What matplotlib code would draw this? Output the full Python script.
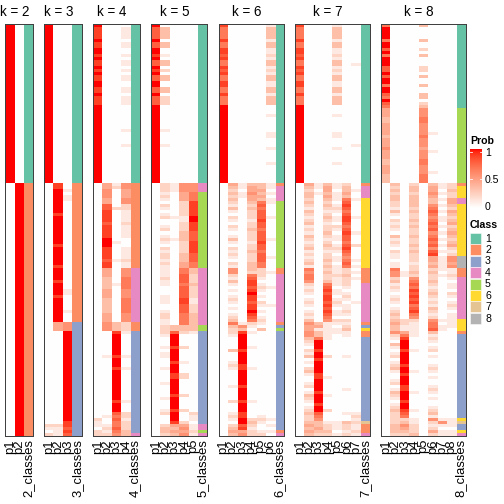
import numpy as np
import matplotlib.pyplot as plt
from matplotlib.colors import to_rgb

plt.rcParams['font.family'] = ['Liberation Sans', 'DejaVu Sans']

N = 137  # samples (rows)

# probabilities are written as digits 0-9 (9 = 1.0), "dxn" = digit d repeated n rows
k2_classes = "1x53 2x84"
k2_p = [("9x53", "0x84"),
        ("0x53", "9x84")]

k3_classes = "1x53 2x46 3x38"
k3_p = [("9x53", "0x80 2 1 0 2"),
        ("0x53", "8x2 9x8 8 9x9 8 9x6 8 9x4 8 9x4 8 9x8", "4x3", "0x31 2 1 1 1"),
        ("0x53", "0x2 1 0 1x2 0x29 1x2 0x5 1 0x3", "5x3", "9x30 8x2 7 8 7")]

k4_classes = "1x53 2x28 4x18 2x3 3x34 4"
k4_p = [("9 8x4 9 8x2 9x2 8 9 8x2 9 8 9 8x2 9x2 8x2 9 8x3 9x26", "0x49", "0x29 2 1 1 0 2 2"),
        ("0x53", "4x2 5x3 4x2 7x2 8x4 7 8x4 9x3 8x4 7 8x2", "4x3 3x4 4x3 3x5 4x3", "5x3",
         "0x8 1 0x19 1 0x2 1 2 1 2"),
        ("0x53", "1 2 0x6 2 0x10 1 0x5 1 0x2", "0x5 1 0x12", "3x3",
         "8 9x7 8 9x3 8 9x10 8 9x3 7 6 7 6x2 7 6 5"),
        ("0 1x4 0 1x2 0x2 1 0 1x2 0 1 0 1x2 0x2 1x2 0 1x3 0x8 1 0x4 1 0x12",
         "5x2 4x3 5x2 2x2 1x4 2 1x4 0x3 1x4 2 1x2", "5x3 6x4 5x3 6x5 5x3", "2x3",
         "1 0x7 1 0x3 1 0x10 1 0x3 2 2 1 2x2 2 3 3")]

k5_classes = "1x53 4x3 5x25 4x19 5x2 3x31 4x2 5 4"
k5_p = [("9 7x4 9 7x2 9x2 8 9 7x2 9 8 9 7x2 9x2 7x2 9 7x3 9x26", "0x84"),
        ("0 3x4 0 3x2 0x2 1 0 3x2 0 2 0 3x2 0x2 3x2 0 2x3 0x8 1 0x4 1 0x12", "2x3",
         "1 2 1 0 2 1 0 1 2 0x2 1 2 0 1 2 1 0 2 1 2x2 1 2 1", "1x3 2 1x2 0x3 1x3 0x2 1 2x2 1 1",
         "2x2", "2 1 0x3 1 0 1x2 0x3 1 0x4 1 0x4 1 0x3 1 2 0x3", "2 3 3 2"),
        ("0x53", "1x3", "0x8 1 0x6 1 0x9", "0x19", "3x2",
         "7 9x4 8 9x4 8 9x3 8x2 9x5 8 9x4 8 9x3 8", "4 3 4 3"),
        ("0x53", "5x3", "4x3 2x5 1x2 2x3 3x3 2x4 3x3 4x2", "6x2 7x3 6 7x4 8x2 7x3 6x3 6", "3x2",
         "2 0x4 2 0x4 1 0x3 2x2 0x5 2 0x4 2 0x3 2", "4 5 4 5"),
        ("0x53", "5x3", "6x3 8x5 9x2 8x3 7x3 8x4 7x3 6x2", "3x2 2x3 3 2x4 1x2 2x3 3x3 3", "3x2",
         "1 0x26 2 1 1 0", "1 1 2 1")]

k6_classes = "1x53 2 4x5 5x22 2x2 4x16 2 3 5 3x33 2 4"
k6_p = [("8 6x4 8 6x2 8x2 7 8 6x2 8 7 8 6x2 8x2 6x2 8 6x3 9x26", "0x84"),
        ("0x53", "4", "3 2 3 2 3", "2 1 3 1 0 2 1 0 2 1 0 1 3 1 0 2 1 2 1 0 2 1", "5 5",
         "2 1 3 1 0 1 0 1 2 1 0 1 0 1 2 3", "6", "3", "2",
         "2 1 0x4 3 0x3 1 2 1 0x5 1 0x4 2 0x3 1 2 1 0 2 3", "4 3"),
        ("0x53", "1", "1 0 1 1 0", "0x22", "0 0", "0x16", "1", "5", "3",
         "8 9x5 8 9x4 8x2 9x5 8 9x4 8 9x3 8x2 9x2 7 8", "4 5"),
        ("0x53", "3", "4 4 5 4 4", "3 2 3 2x3 1 2x2 3 2x3 1 2x2 3 2x3 3x2", "3 2",
         "6 7 8x2 7 8 9 8x2 7 8x2 9 8 7 6", "2", "1", "0",
         "1 0x4 1 0x6 1 0x10 1 0x5 2 3 2 1", "2 2"),
        ("0x53", "3", "3 4 3 4 3", "6 7 6 7x3 8 7x2 6 7x3 8 7x2 6 7x3 6x2", "2 2",
         "2 1 0 1 2 1 0 1 0 2 1 0 1 0 1 2", "1", "0", "3", "0x28 1 2 1 0 0", "1 2"),
        ("1 3x4 1 3x2 1x2 2 1 3x2 1 2 1 3x2 1x2 3x2 1 3x3 0x3 1 0x5 1x2 0x3 1 0x4 1 0x6",
         "1", "1 0 1 0 1", "1 0x4 1 0x6 1 0x5 1 0x3", "0 1", "0x4 1 0x5 1 0x5", "0", "0", "0",
         "0x29 1 0 1 0", "1 0")]

k7_classes = "1x53 2 4x4 6x23 2x5 4x13 2 3 6 2x2 3x28 7 2x3 4"
k7_p = [("8 6x4 8 6x2 8x2 7 8 6x2 8 7 8 6x2 8x2 6x2 8 6x3 9x26", "0x84"),
        ("0x53", "4", "3 2 3 3", "2 3 2 1 3 2 1 2 3 1 2 1 3 2 1 2 3 1 2 1 2 3 1", "6 5 6 6 5",
         "2 1 2 1 0 1 2 1 0 1 2 1 3", "5", "4", "4", "5 5",
         "3 2 1 0 2 1 3 0 1 0 2 3 1 0 0 1 2 0 1 3 2 1 0 1 2 3 2 2", "3", "4 3 4", "3"),
        ("0x53", "1", "1 0 1 0", "0x23", "0x5", "0x13", "3", "4", "1", "3 3",
         "6 9x3 8 9x2 8 9x4 8x2 9x4 8 9x3 8 9x2 7 6 5", "3", "3 4 3", "2"),
        ("0x53", "3", "4 4 3 4", "3 2 3 2 1 2 3 2 1 2 2 3 2 1 2 3 2 1 2 2 3 2 3", "2 3 2 2 3",
         "6 7 8 7 8 8 7 8 7 8 7 6 5", "1", "1", "1", "1 1",
         "1 0x5 2 0x6 1 0x5 1 0x4 2 0x3", "1", "2 2 3", "2"),
        ("1 3x4 1 3x2 1x2 2 1 3x2 1 2 1 3x2 1x2 3x2 1 3x3 0x3 1 0x5 1x2 0x3 1 0x4 1 0x6",
         "1", "1 0 1 1", "1 0 1 2 1 0 1 1 0 2 1 0 1 1 0 1 2 1 0 1 1 0 1", "1 1 2 1 1",
         "1 0 1 1 0 1 2 1 0 1 1 0 2", "1", "0", "1", "1 0", "0x28", "1", "1 1 0", "1"),
        ("0x53", "2", "3 3 4 3", "6 7 8 7 6 7 8 8 7 6 7 8 7 7 6 7 8 7 6 5 6 7 6", "2 2 3 2 2",
         "2 1 0 1 2 1 0 1 1 2 1 0 2", "1", "2", "3", "1 1", "0x6 1 0x10 1 0x7 1 0x2",
         "3", "2 2 1", "2"),
        ("0x13 1 0x26 1 0x12", "0", "0 1 0 0", "1 0x5 1 0x4 1 0x3 2 0x4 1 0 1", "0 1 0 1 0",
         "0x6 1 0x6", "0", "0", "0", "0 0", "0x25 1 2 1", "2", "1 1 2", "1")]

k8_classes = "1x28 5x25 2 6x4 4x2 6x17 8x4 2x3 4x14 6x4 2 3x28 6 7 3x2 6 4"
k8_p = [("6 9x4 6 9x2 7 9 6 9x3 7x2 9 7 9x2 6 9x2 7 6 9 7 6",
         "4x3 3x2 4x4 3 4x3 5 4x3 3x2 4x3 3x3", "0x84"),
        ("0x53", "3", "2 3 2 3", "3 2", "2 1 3 1 0 2 1 2 1 0 3 1 2 1 0 2 1", "1 0 1 1", "6 5 5",
         "2 3 1 2 1 0 1 2 1 0 1 2 3 2", "3 4 3 3", "5",
         "2 1 0 3 1 0 1 2 0 1 2 3 1 0 0 1 2 0 1 3 2 1 0 1 2 3 2 2", "2", "2", "3 3", "3", "2"),
        ("0x53", "0", "0x4", "0x2", "0x17", "0x4", "0 1 1", "0x14", "2 2 1 1", "4",
         "6 8 9x3 8 9x4 8 9x2 8 9x3 8x2 9x3 8 9x2 8 7 6", "2", "3", "5 4", "3", "2"),
        ("0x53", "2", "3 3 2 3", "3 3", "3 2 3 2 2 3 2 3 2 2 3 2 2 3 2 3 2", "2 2 1 2", "2 3 2",
         "5 6 7 6 8 7 8 7 8 6 7 8 6 5", "2 1 1 1", "1",
         "1 0x4 1 0x6 1 0x6 1 0x5 1 0x2", "1", "1", "2 2", "2", "3"),
        ("3 0x4 3 0x2 2 0 3 0x3 2x2 0 3 0x2 3 0x2 3 3 0 2 3",
         "5x3 6x2 5x4 6 5x3 4 5x3 6x2 5x3 6x3", "0x84"),
        ("0x28", "0x8 1 0x5 1 0x6 1 0x3", "3", "4 4 5 4", "3 3",
         "5 6 7 6 5 6 7 6 7 5 6 7 6 7 5 7 8", "4 4 3 4", "2 3 2",
         "2 3 2 1 2 3 2 1 2 1 3 2 1 2", "5 6 6 7", "3",
         "1 2 1 0 1 2 0 1 0 0 1 2 1 0 1 0 0 1 2 1 0 1 0 0 1 2 3 1", "5", "2", "1 2", "4", "2"),
        ("0x53", "1", "1 0 1 0", "1 0", "1 0 1 0 1 1 0 1 0 1 0 1 0 1 0 1 0", "1 1 1 1", "1 0 1",
         "0x14", "1 0 1 1", "0", "0x28", "1", "5", "1 0", "1", "1"),
        ("0x53", "2", "2 3 2 2", "4 4", "3 2 4 3 2 3 4 2 3 4 3 2 3 4 2 1 2", "5 5 4 5", "1 1 2",
         "1 0 1 1 0 2 1 0 1 2 1 0 1 1", "1 1 1 0", "0", "0x28", "1", "1", "1 0", "1", "1")]

class_colors = {"1": "#66C2A5", "2": "#FC8D62", "3": "#8DA0CB", "4": "#E78AC3",
                "5": "#A6D854", "6": "#FFD92F", "7": "#E5C494", "8": "#B3B3B3"}


def expand(*segments):
    out = []
    for tok in " ".join(segments).split():
        if "x" in tok:
            v, n = tok.split("x")
            out += [v] * int(n)
        else:
            out.append(tok)
    if len(out) != N:
        print("length", len(out))
        out = (out + ["0"] * N)[:N]
    return out


# white -> red ramp interpolated in LAB space
M = np.array([[0.4124, 0.3576, 0.1805], [0.2126, 0.7152, 0.0722], [0.0193, 0.1192, 0.9505]])
WXYZ = M @ np.ones(3)


def to_lab(rgb):
    c = np.asarray(rgb, float)
    lin = np.where(c <= 0.04045, c / 12.92, ((c + 0.055) / 1.055) ** 2.4)
    t = M @ lin / WXYZ
    f = np.where(t > 0.008856, np.cbrt(t), 7.787 * t + 16 / 116)
    return np.array([116 * f[1] - 16, 500 * (f[0] - f[1]), 200 * (f[1] - f[2])])


def from_lab(lab):
    L, a, b = lab
    fy = (L + 16) / 116
    f = np.array([fy + a / 500, fy, fy - b / 200])
    t = np.where(f ** 3 > 0.008856, f ** 3, (f - 16 / 116) / 7.787) * WXYZ
    lin = np.clip(np.linalg.solve(M, t), 0, 1)
    return np.where(lin <= 0.0031308, 12.92 * lin, 1.055 * lin ** (1 / 2.4) - 0.055)


LW, LR = to_lab([1, 1, 1]), to_lab([1, 0, 0])


def prob_color(v):
    return np.clip(from_lab(LW + (LR - LW) * v), 0, 1)


panels = [(2, k2_classes, k2_p), (3, k3_classes, k3_p), (4, k4_classes, k4_p),
          (5, k5_classes, k5_p), (6, k6_classes, k6_p), (7, k7_classes, k7_p),
          (8, k8_classes, k8_p)]

W = H = 504
fig = plt.figure(figsize=(7, 7), dpi=72)
top, bottom = 24, 436
cw, gap, x = 9.35, 11.3, 5.0

for k, cls, probs in panels:
    ncol = k + 1
    w = ncol * cw
    ax = fig.add_axes([x / W, 1 - bottom / H, w / W, (bottom - top) / H])
    img = np.ones((N, ncol, 3))
    for j, col in enumerate(probs):
        vals = expand(*col)
        img[:, j] = [prob_color(int(d) / 9) for d in vals]
    img[:, k] = [to_rgb(class_colors[c]) for c in expand(cls)]
    ax.imshow(img, aspect="auto", interpolation="nearest", extent=(0, ncol, N, 0))
    ax.set_xticks(np.arange(ncol) + 0.5)
    ax.set_xticklabels([f"p{i + 1}" for i in range(k)] + [f"{k}_classes"],
                       rotation=90, fontsize=13)
    ax.tick_params(length=0, pad=3)
    ax.set_yticks([])
    for s in ax.spines.values():
        s.set_color("#404040")
        s.set_linewidth(1)
    ax.text(k / 2, 1 + 8 / (bottom - top), f"k = {k}", transform=ax.get_xaxis_transform(),
            ha="center", va="baseline", fontsize=13.5)
    x += w + gap

# legends, drawn in pixel coordinates
lg = fig.add_axes([0, 0, 1, 1])
lg.set_xlim(0, W)
lg.set_ylim(H, 0)
lg.axis("off")

lg.text(470, 144, "Prob", fontsize=10.5, fontweight="bold", va="baseline")
grad = np.array([prob_color(v) for v in np.linspace(1, 0, 100)])[:, None, :]
lg.imshow(grad, extent=(470, 482, 208, 149), aspect="auto", interpolation="bilinear")
for v, lab in [(1, "1"), (0.5, "0.5"), (0, "0")]:
    yy = 206 - v * 54
    lg.plot([470, 472], [yy, yy], color="white", lw=0.8)
    lg.plot([480, 482], [yy, yy], color="white", lw=0.8)
    lg.text(485, yy + 1, lab, fontsize=10.5, va="center")

lg.text(470, 228, "Class", fontsize=10.5, fontweight="bold", va="baseline")
for i in range(8):
    y0 = 233 + i * 11.4
    lg.add_patch(plt.Rectangle((470, y0), 11, 11, facecolor=class_colors[str(i + 1)],
                               edgecolor="white", lw=0.5))
    lg.text(485, y0 + 5.7, str(i + 1), fontsize=10.5, va="center")
lg.set_xlim(0, W)
lg.set_ylim(H, 0)

fig.savefig("out.png", dpi=72)
